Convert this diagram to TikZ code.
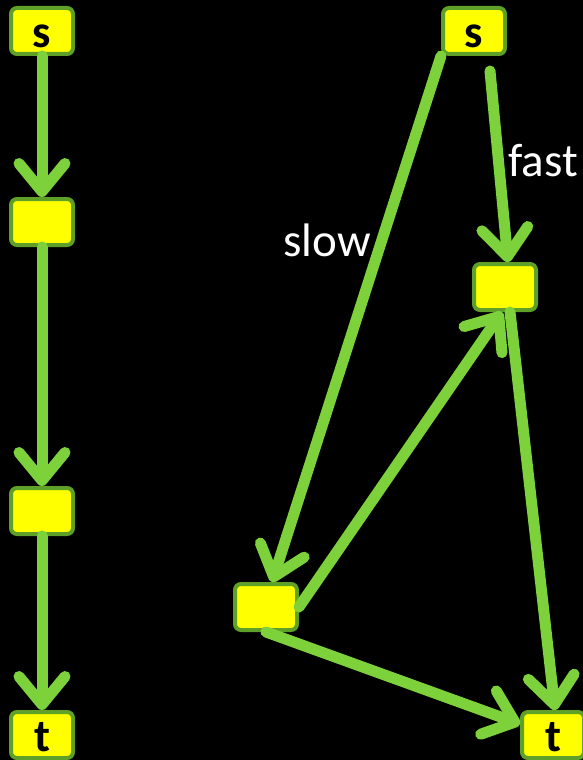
\documentclass[tikz,border=0pt]{standalone}
\usepackage{fontspec}
\setmainfont{Carlito}
\usetikzlibrary{arrows.meta}
\definecolor{edgegreen}{RGB}{125,210,60}
\definecolor{boxborder}{RGB}{95,160,40}
\definecolor{boxfill}{RGB}{255,255,0}

\begin{document}
\begin{tikzpicture}[x=1pt,y=-1pt,
  vertex/.style={draw=boxborder, line width=4pt, fill=boxfill, rounded corners=6pt,
    minimum width=62pt, minimum height=46pt, inner sep=0pt,
    text height=34pt, text depth=1pt,
    font=\fontsize{46}{46}\selectfont\bfseries, text=black},
  link/.style={draw=edgegreen, line width=11pt, line cap=round,
    -{Straight Barb[length=28pt,width=46pt,round]}},
  tag/.style={text=white, anchor=base, inner sep=0pt, font=\fontsize{47}{47}\selectfont}]
  % black backdrop, also fixing the page size
  \fill[black] (0,0) rectangle (583,760);
  \useasboundingbox (0,0) rectangle (583,760);

  % left: a single path s -> . -> . -> t
  \node[vertex] (s1) at (42,31) {s};
  \node[vertex] (a1) at (42,222) {};
  \node[vertex] (b1) at (42,511) {};
  \node[vertex] (t1) at (42,735) {t};

  % right: a slow route and a fast route
  \node[vertex] (s2) at (474,31) {s};
  \node[vertex] (a2) at (505,287) {};
  \node[vertex] (b2) at (266,607) {};
  \node[vertex] (t2) at (553,735) {t};

  \draw[link] (s1.south) -- (a1.north);
  \draw[link] (a1.south) -- (b1.north);
  \draw[link] (b1.south) -- (t1.north);

  \draw[link] (s2.south west) -- ([xshift=6pt]b2.north);
  \draw[link] ([xshift=16pt,yshift=-15pt]s2.south) -- ([xshift=3pt]a2.north);
  \draw[link] (b2.east) -- ([xshift=-3pt]a2.south);
  \draw[link] (b2.south) -- ([yshift=11pt]t2.west);
  \draw[link] ([xshift=5pt]a2.south) -- ([xshift=2pt]t2.north);

  \node[tag] (slow) at (327,256) {slow};
  \node[tag] (fast) at (543,176) {fast};
\end{tikzpicture}
\end{document}
